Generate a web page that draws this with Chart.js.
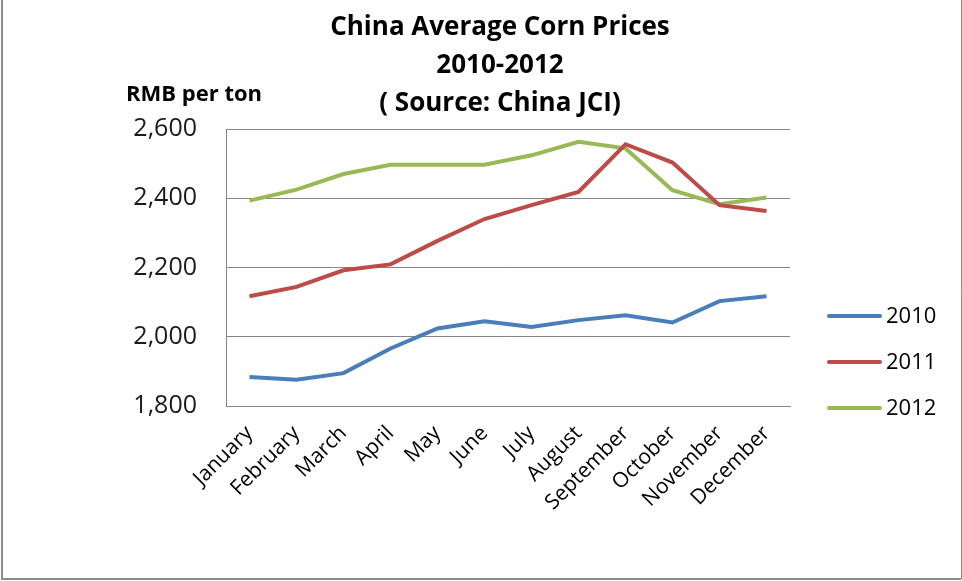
<!DOCTYPE html>
<html>
<head>
<meta charset="utf-8">
<script src="https://cdn.jsdelivr.net/npm/chart.js@4"></script>
<style>
  html, body { margin: 0; padding: 0; background: #fff; }
  #wrap { width: 962px; height: 581px; position: relative; }
</style>
</head>
<body>
<div id="wrap"><canvas id="chart"></canvas></div>
<script>
// data
const months = ['January', 'February', 'March', 'April', 'May', 'June',
                'July', 'August', 'September', 'October', 'November', 'December'];
const prices2010 = [1884, 1876, 1895, 1966, 2024, 2045, 2028, 2048, 2062, 2041, 2103, 2117];
const prices2011 = [2117, 2144, 2192, 2209, 2277, 2340, 2380, 2418, 2556, 2503, 2380, 2363];
const prices2012 = [2393, 2425, 2470, 2497, 2497, 2497, 2524, 2563, 2544, 2423, 2383, 2402];
const yTicks = [1800, 2000, 2200, 2400, 2600];
const titleLines = ['China Average Corn Prices', '2010-2012', '( Source: China JCI)'];
const yUnit = 'RMB per ton';

const FONT = "'Open Sans', 'DejaVu Sans', sans-serif";
const gridColor = '#868686';

// title, unit label, legend and frame drawn around the plot
const decorations = {
    id: 'decorations',
    afterDraw(chart) {
        const ctx = chart.ctx;
        ctx.save();
        ctx.fillStyle = '#000';
        ctx.textAlign = 'center';
        ctx.textBaseline = 'middle';
        ctx.font = 'bold 26px ' + FONT;
        titleLines.forEach((line, i) => ctx.fillText(line, 500, 28 + i * 38));

        ctx.textAlign = 'left';
        ctx.font = 'bold 22px ' + FONT;
        ctx.fillText(yUnit, 126, 95);

        // legend
        ctx.font = '22px ' + FONT;
        chart.data.datasets.forEach((ds, i) => {
            const y = 316 + i * 46;
            ctx.strokeStyle = ds.borderColor;
            ctx.lineWidth = ds.borderWidth;
            ctx.lineCap = 'round';
            ctx.beginPath();
            ctx.moveTo(829, y);
            ctx.lineTo(880, y);
            ctx.stroke();
            ctx.fillStyle = '#000';
            ctx.fillText(ds.label, 886, y + 1);
        });

        // outer frame
        ctx.strokeStyle = '#8c8c8c';
        ctx.lineCap = 'butt';
        ctx.lineWidth = 2;
        ctx.beginPath();
        ctx.moveTo(2, 0); ctx.lineTo(2, 579);
        ctx.lineTo(961, 579);
        ctx.stroke();
        ctx.lineWidth = 1;
        ctx.beginPath();
        ctx.moveTo(961.5, 0); ctx.lineTo(961.5, 579);
        ctx.stroke();
        ctx.restore();
    }
};

const ctx = document.getElementById('chart').getContext('2d');
new Chart(ctx, {
    type: 'line',
    data: {
        labels: months,
        datasets: [
            { label: '2010', data: prices2010, borderColor: '#4A7EBB' },
            { label: '2011', data: prices2011, borderColor: '#BE4B48' },
            { label: '2012', data: prices2012, borderColor: '#98B954' }
        ].map(ds => Object.assign(ds, { borderWidth: 4, pointRadius: 0, tension: 0, fill: false }))
    },
    options: {
        responsive: true,
        maintainAspectRatio: false,
        devicePixelRatio: 1,
        animation: false,
        layout: { padding: { top: 129, right: 172, bottom: 0, left: 0 } },
        plugins: {
            legend: { display: false },
            title: { display: false },
            tooltip: { enabled: false }
        },
        scales: {
            x: {
                offset: true,
                grid: { display: false, drawTicks: false },
                border: { display: true, color: gridColor, width: 1 },
                ticks: {
                    color: '#000',
                    font: { family: FONT, size: 21 },
                    minRotation: 45,
                    maxRotation: 45,
                    padding: 15,
                    autoSkip: false
                },
                afterFit: scale => { scale.height = 175; }
            },
            y: {
                min: yTicks[0],
                max: yTicks[yTicks.length - 1],
                afterBuildTicks: scale => { scale.ticks = yTicks.map(v => ({ value: v })); },
                grid: { color: gridColor, lineWidth: 1, drawTicks: false },
                border: { display: true, color: gridColor, width: 1 },
                ticks: {
                    color: '#1a1a1a',
                    font: { family: FONT, size: 25 },
                    padding: 29,
                    callback: v => v.toLocaleString('en-US')
                },
                afterFit: scale => { scale.width = 226; }
            }
        }
    },
    plugins: [decorations]
});
</script>
</body>
</html>
